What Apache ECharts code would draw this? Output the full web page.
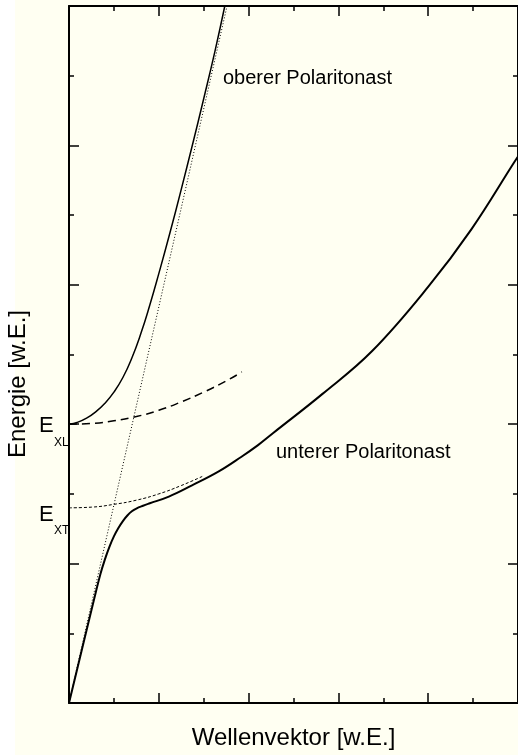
<!DOCTYPE html>
<html>
<head>
<meta charset="utf-8">
<script src="https://cdn.jsdelivr.net/npm/echarts@6/dist/echarts.min.js"></script>
<style>
  html, body { margin: 0; padding: 0; }
  body { width: 518px; height: 755px; overflow: hidden;
         background: linear-gradient(to right, #ffffff 0px, #ffffff 15px, #fffff2 15px, #fffff2 100%); }
  #chart { width: 518px; height: 755px; }
</style>
</head>
<body>
<div id="chart"></div>
<script>
// Axis ranges / ticks (arbitrary units, no tick labels)
const axisMin = 0;
const axisMax = 10;
const majorInterval = 2;

// Axis titles and annotations
const xTitle = 'Wellenvektor [w.E.]';
const yTitle = 'Energie [w.E.]';
const upperLabel = 'oberer Polaritonast';
const lowerLabel = 'unterer Polaritonast';
const exlMain = 'E', exlSub = 'XL';
const extMain = 'E', extSub = 'XT';

// Light line (dotted)
const photonK = [0, 3.52];
const photonE = [0, 10];

// Upper polariton branch (solid)
const upperK = [0, 0.2, 0.4, 0.6, 0.8, 1.0, 1.2, 1.4, 1.6, 1.8, 2.0, 2.25, 2.5, 2.75, 3.0, 3.25, 3.47];
const upperE = [4.0, 4.03, 4.09, 4.18, 4.30, 4.46, 4.67, 4.95, 5.30, 5.71, 6.16, 6.75, 7.37, 8.01, 8.67, 9.35, 10.0];

// Longitudinal exciton (dashed)
const xlK = [0, 0.5, 1.0, 1.5, 2.0, 2.5, 3.0, 3.5, 3.85];
const xlE = [4.0, 4.01, 4.05, 4.11, 4.2, 4.32, 4.46, 4.62, 4.75];

// Transverse exciton (short dashed)
const xtK = [0, 0.5, 1.0, 1.5, 2.0, 2.5, 3.0];
const xtE = [2.8, 2.81, 2.85, 2.91, 3.0, 3.12, 3.26];

// Lower polariton branch (solid, thick)
const lowerK = [0, 0.564, 0.7, 0.8, 0.9, 1.0, 1.1, 1.2, 1.3, 1.4, 1.5, 1.65, 1.8, 2.224, 2.729, 3.326, 3.834, 4.21, 4.541, 5.646, 6.751, 8.011, 8.961, 9.912, 10.0];
const lowerE = [0, 1.502, 1.85, 2.06, 2.24, 2.39, 2.51, 2.61, 2.69, 2.75, 2.79, 2.83, 2.865, 2.961, 3.119, 3.319, 3.53, 3.70, 3.87, 4.435, 5.05, 5.98, 6.795, 7.754, 7.84];

const zip = (a, b) => a.map((v, i) => [v, b[i]]);
const FONT = 'Liberation Sans, Arial, Helvetica, sans-serif';

function mkAxis(pos, extra) {
  return Object.assign({
    type: 'value', position: pos, min: axisMin, max: axisMax, interval: majorInterval,
    axisLine: { show: true, onZero: false, lineStyle: { color: '#000', width: 2 } },
    axisTick: { show: true, inside: true, length: 10, lineStyle: { color: '#000', width: 1.5 } },
    minorTick: { show: true, splitNumber: 2, length: 5, lineStyle: { color: '#000', width: 1.5 } },
    axisLabel: { show: false },
    splitLine: { show: false }
  }, extra || {});
}

function txt(x, y, text, size, extra) {
  return { type: 'text', x: x, y: y,
    style: Object.assign({ text: text, font: size + 'px ' + FONT, fill: '#000', align: 'left', verticalAlign: 'middle' }, extra || {}) };
}

const chart = echarts.init(document.getElementById('chart'), null, { renderer: 'canvas' });
chart.setOption({
  backgroundColor: 'transparent',
  animation: false,
  grid: { left: 69, top: 6, right: -4, bottom: 50, containLabel: false },
  xAxis: [
    mkAxis('bottom', { name: xTitle, nameLocation: 'middle', nameGap: 23,
      nameTextStyle: { fontFamily: FONT, fontSize: 24, color: '#000' } }),
    mkAxis('top')
  ],
  yAxis: [
    mkAxis('left'),
    mkAxis('right')
  ],
  series: [
    { type: 'line', data: zip(photonK, photonE), showSymbol: false,
      lineStyle: { color: '#000', width: 1, type: [1, 2] } },
    { type: 'line', data: zip(xlK, xlE), showSymbol: false, smooth: true,
      lineStyle: { color: '#000', width: 1.5, type: [8, 5] } },
    { type: 'line', data: zip(xtK, xtE), showSymbol: false, smooth: true,
      lineStyle: { color: '#000', width: 1, type: [3, 2] } },
    { type: 'line', data: zip(upperK, upperE), showSymbol: false, smooth: 0.5,
      lineStyle: { color: '#000', width: 1.5 } },
    { type: 'line', data: zip(lowerK, lowerE), showSymbol: false, smooth: 0.4,
      lineStyle: { color: '#000', width: 2 } }
  ],
  graphic: [
    { type: 'text', x: 18, y: 384, rotation: Math.PI / 2,
      style: { text: yTitle, font: '24px ' + FONT, fill: '#000', align: 'center', verticalAlign: 'middle' } },
    txt(223, 78, upperLabel, 20),
    txt(276, 452, lowerLabel, 20),
    txt(39, 426, exlMain, 22),
    txt(54, 443, exlSub, 12),
    txt(39, 515, extMain, 22),
    txt(54, 531, extSub, 12)
  ]
});
</script>
</body>
</html>
